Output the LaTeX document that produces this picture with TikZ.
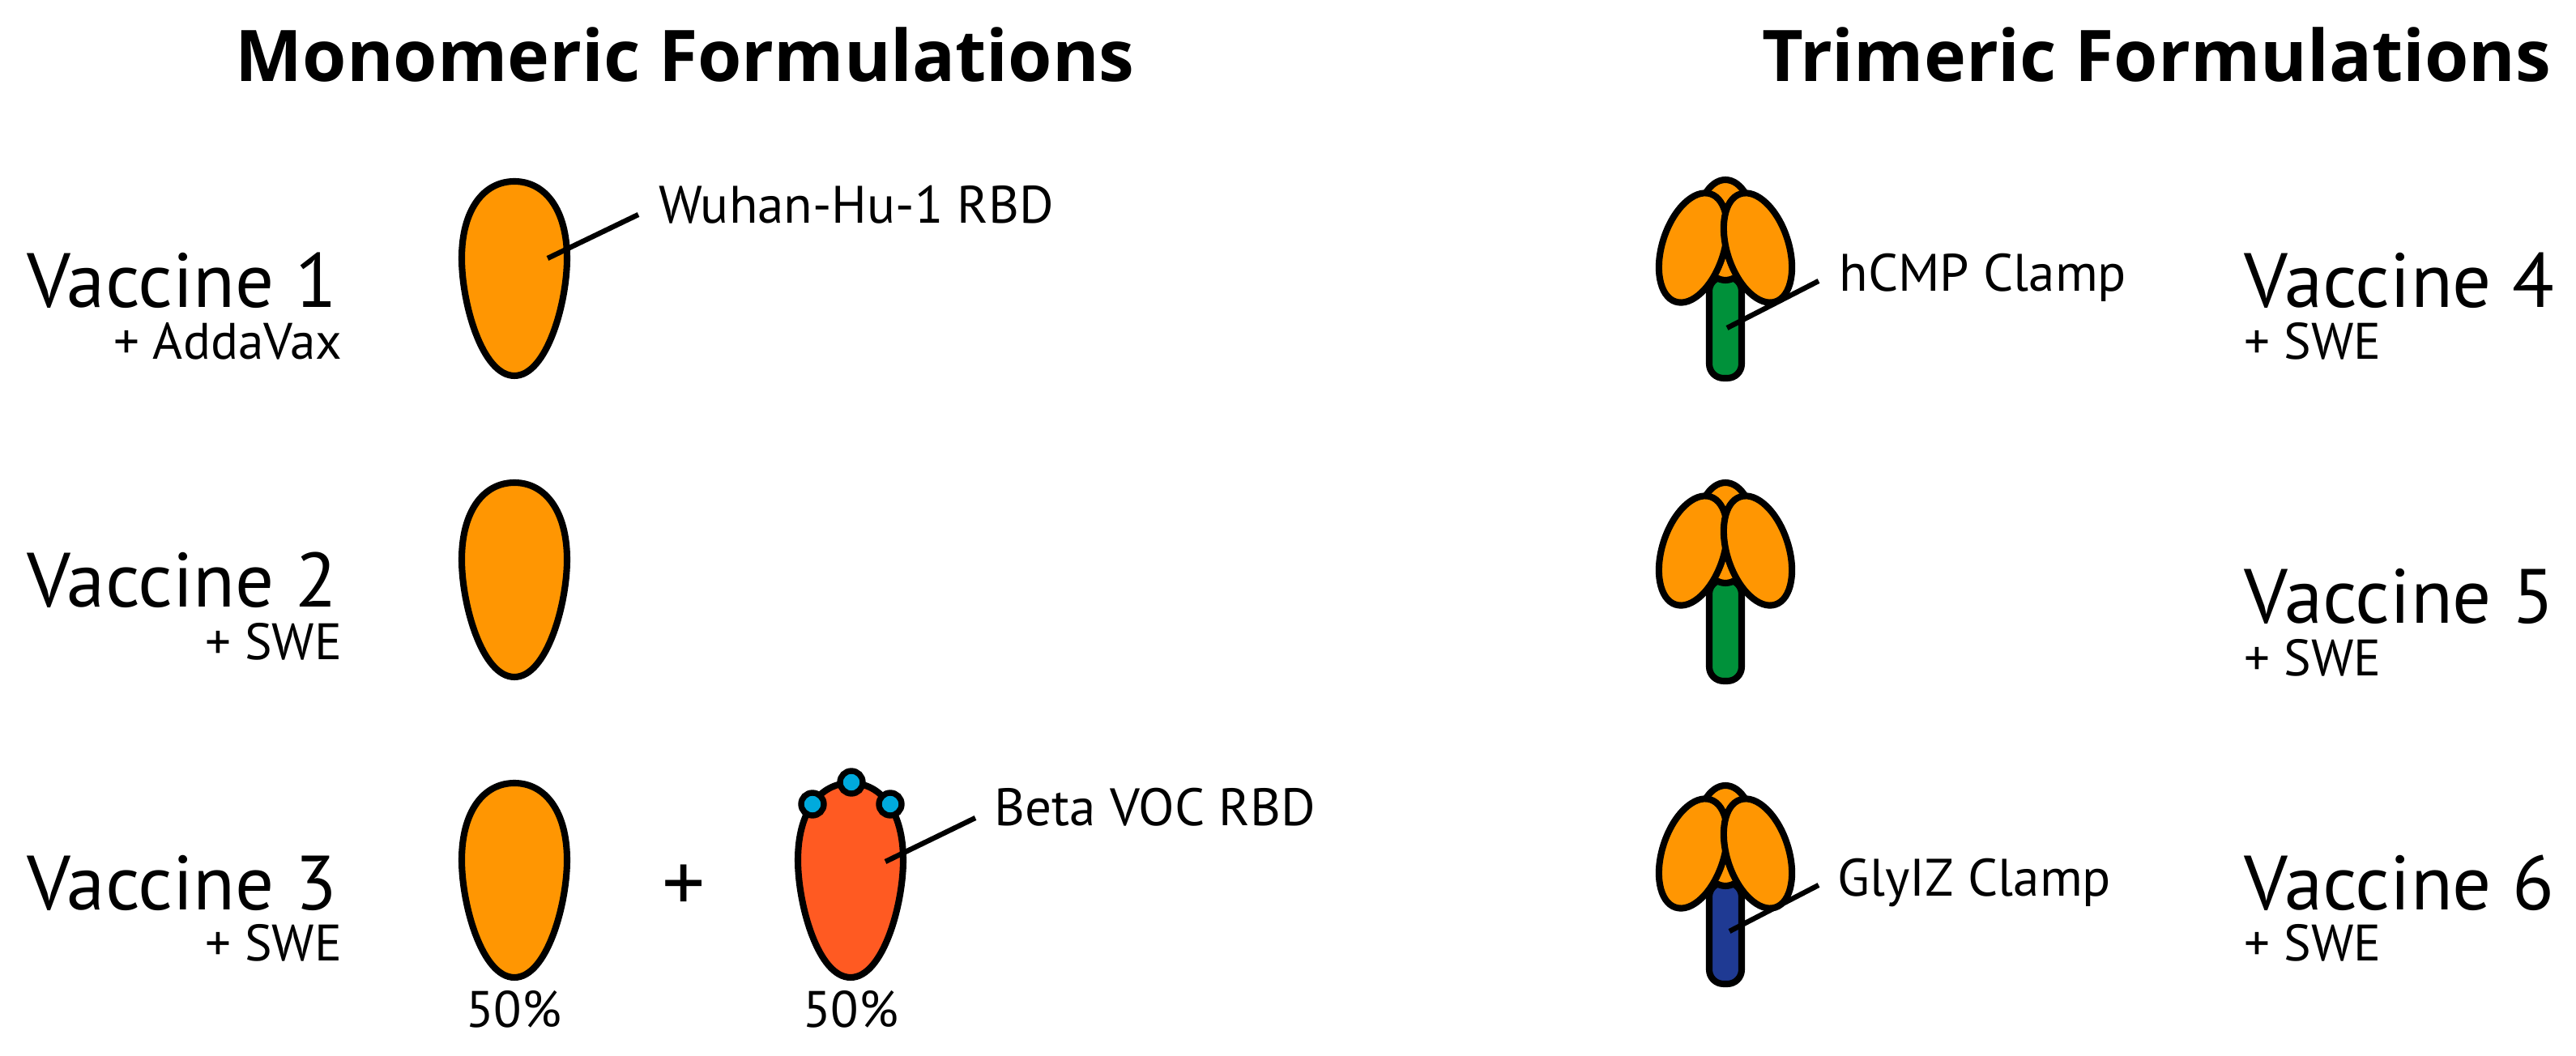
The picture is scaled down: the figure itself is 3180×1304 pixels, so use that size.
\documentclass[tikz,border=0pt]{standalone}
\usepackage{fontspec}
\setmainfont{PT Sans}
\newfontfamily\ttlfont{Open Sans}
\definecolor{rbd}{HTML}{FF9602}
\definecolor{beta}{HTML}{FF5A22}
\definecolor{hcmp}{HTML}{00913A}
\definecolor{glyiz}{HTML}{1F3A93}
\definecolor{dotc}{HTML}{00AADD}
\tikzset{
  outl/.style={draw=black,line width=2.3pt},
  lead/.style={draw=black,line width=1.8pt},
  big/.style={font=\fontsize{27}{30}\selectfont,inner sep=0pt},
  sub/.style={font=\fontsize{18}{20}\selectfont,inner sep=0pt},
  lab/.style={font=\fontsize{18.5}{20}\selectfont,inner sep=0pt},
  ttl/.style={font=\ttlfont\bfseries\fontsize{25}{28}\selectfont,inner sep=0pt},
  pics/egg/.style={code={
    \path[outl,fill=#1] (0,120) .. controls (40,120) and (65,30) .. (65,-25)
      .. controls (65,-85) and (38,-120) .. (0,-120)
      .. controls (-38,-120) and (-65,-85) .. (-65,-25)
      .. controls (-65,30) and (-40,120) .. (0,120) -- cycle;}},
  pics/trimer/.style={code={
    % origin at top of center petal
    \path[outl,fill=#1,rounded corners=5pt] (-20,120) -- (-20,245) -- (20,245) -- (20,120) -- cycle;
    \path[outl,fill=rbd] (0,62) ellipse [x radius=36, y radius=62];
    \path[outl,fill=rbd] (-40,84) ellipse [x radius=38, y radius=70, rotate=-18];
    \path[outl,fill=rbd] (40,84) ellipse [x radius=38, y radius=70, rotate=18];}}
}
\begin{document}
\begin{tikzpicture}[x=0.01cm,y=-0.01cm]
\useasboundingbox (0,0) rectangle (3180,1304);
\node[ttl,anchor=base west] (t1) at (290,101) {Monomeric Formulations};
\node[ttl,anchor=base east] (t2) at (3150,101) {Trimeric Formulations};
% left labels
\node[big,anchor=base west] (v1) at (33,380) {Vaccine 1};
\node[sub,anchor=base east] (a1) at (423,444) {+ AddaVax};
\node[big,anchor=base west] (v2) at (33,750) {Vaccine 2};
\node[sub,anchor=base east] (a2) at (423,815) {+ SWE};
\node[big,anchor=base west] (v3) at (33,1124) {Vaccine 3};
\node[sub,anchor=base east] (a3) at (423,1187) {+ SWE};
% eggs
\pic at (635,344) {egg=rbd};
\pic at (635,716) {egg=rbd};
\pic at (635,1087) {egg=rbd};
\pic at (1050,1087) {egg=beta};
\foreach \p in {(1003,993),(1051,966),(1099,993)}
  \path[draw=black,line width=2.1pt,fill=dotc] \p circle (14);
\node[font=\fontsize{30}{30}\selectfont,inner sep=0pt] (plus) at (844,1097) {+};
\node[sub,anchor=base] (p1) at (634,1269) {50\%};
\node[sub,anchor=base] (p2) at (1050,1269) {50\%};
% leaders monomeric
\node[lab,anchor=base west] (wl) at (813,276) {Wuhan-Hu-1 RBD};
\coordinate (w0) at (676,319); \coordinate (w1) at (788,265);
\draw[lead] (w0) -- (w1);
\node[lab,anchor=base west] (bl) at (1227,1020) {Beta VOC RBD};
\coordinate (b0) at (1093,1064); \coordinate (b1) at (1204,1010);
\draw[lead] (b0) -- (b1);
% trimers
\pic at (2130,222) {trimer=hcmp};
\pic at (2130,596) {trimer=hcmp};
\pic at (2130,970) {trimer=glyiz};
\node[lab,anchor=base west] (hl) at (2270,360) {hCMP Clamp};
\coordinate (h0) at (2132,405); \coordinate (h1) at (2245,347);
\draw[lead] (h0) -- (h1);
\node[lab,anchor=base west] (gl) at (2268,1107) {GlyIZ Clamp};
\coordinate (g0) at (2135,1150); \coordinate (g1) at (2245,1093);
\draw[lead] (g0) -- (g1);
% right labels
\node[big,anchor=base west] (v4) at (2770,380) {Vaccine 4};
\node[sub,anchor=base west] (a4) at (2770,444) {+ SWE};
\node[big,anchor=base west] (v5) at (2770,770) {Vaccine 5};
\node[sub,anchor=base west] (a5) at (2770,835) {+ SWE};
\node[big,anchor=base west] (v6) at (2770,1124) {Vaccine 6};
\node[sub,anchor=base west] (a6) at (2770,1187) {+ SWE};
\end{tikzpicture}
\end{document}
